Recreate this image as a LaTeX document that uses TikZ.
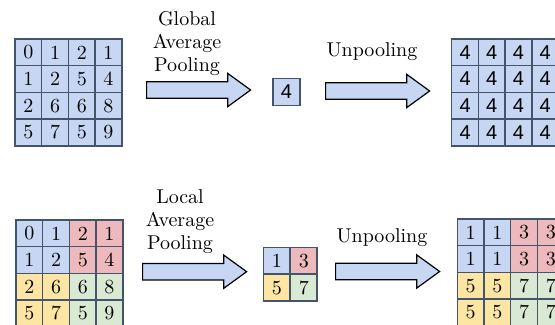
\documentclass[tikz,border=0pt]{standalone}
\usepackage{fontspec}
\newfontfamily\arialfont{Liberation Sans}
\usetikzlibrary{shapes.arrows, positioning}
\definecolor{cellblue}{HTML}{C6D6F3}
\definecolor{cellred}{HTML}{EDB9BC}
\definecolor{cellyellow}{HTML}{FDE5A3}
\definecolor{cellgreen}{HTML}{DAE9D4}
\definecolor{gridline}{HTML}{44546A}

\begin{document}
\begin{tikzpicture}[
        x=0.5pt, y=-0.5pt,
        cell/.style={rectangle, draw=gridline, line width=0.75pt, minimum size=13.35pt, inner sep=0pt, font=\fontsize{10}{12}\selectfont},
        blockarrow/.style={single arrow, draw=black, line width=0.6pt, fill=cellblue, minimum height=52pt, inner xsep=0pt, inner ysep=3.8pt, single arrow head extend=4.2pt, single arrow tip angle=72, single arrow head indent=0pt, anchor=west},
        label/.style={align=center, font=\fontsize{10}{11.5}\selectfont}
    ]
        \useasboundingbox (0,0) rectangle (555,325);

        % Global pooling (top row)
        \foreach \r/\vals in {0/{0,1,2,1}, 1/{1,2,5,4}, 2/{2,6,6,8}, 3/{5,7,5,9}}
            \foreach \v [count=\c from 0] in \vals
                \node [cell, fill=cellblue] (in-\r-\c) at ({15+26.7*(\c+0.5)}, {39+26.7*(\r+0.5)}) {\v};
        \node [blockarrow] (gap) at (146,90) {};
        \node [label] (gaptext) at (187,44) {Global\\Average\\Pooling};
        \node [cell, fill=cellblue, font=\arialfont\fontsize{10}{12}\selectfont] (avg) at (286.5,92) {4};
        \node [blockarrow] (unpool) at (325,91) {};
        \node [label] (unpooltext) at (372,52) {Unpooling};
        \foreach \r in {0,...,3}
            \foreach \c in {0,...,3}
                \node [cell, fill=cellblue, font=\arialfont\fontsize{10}{12}\selectfont] (out-\r-\c) at ({451.7+26.7*(\c+0.5)}, {39+26.7*(\r+0.5)}) {4};

        % Local pooling (bottom row)
        \foreach \r/\vals in {0/{0/cellblue,1/cellblue,2/cellred,1/cellred}, 1/{1/cellblue,2/cellblue,5/cellred,4/cellred},
                2/{2/cellyellow,6/cellyellow,6/cellgreen,8/cellgreen}, 3/{5/cellyellow,7/cellyellow,5/cellgreen,9/cellgreen}}
            \foreach \v/\f [count=\c from 0] in \vals
                \node [cell, fill=\f] (lin-\r-\c) at ({16+26.7*(\c+0.5)}, {220+26.7*(\r+0.5)}) {\v};
        \node [blockarrow] (lap) at (142,271.7) {};
        \node [label] (laptext) at (180,222) {Local\\Average\\Pooling};
        \foreach \r/\vals in {0/{1/cellblue,3/cellred}, 1/{5/cellyellow,7/cellgreen}}
            \foreach \v/\f [count=\c from 0] in \vals
                \node [cell, fill=\f] (lavg-\r-\c) at ({263.3+27*(\c+0.5)}, {247.3+27*(\r+0.5)}) {\v};
        \node [blockarrow] (lunpool) at (335,271.5) {};
        \node [label] (lunpooltext) at (382,238) {Unpooling};
        \foreach \r/\vals in {0/{1/cellblue,1/cellblue,3/cellred,3/cellred}, 1/{1/cellblue,1/cellblue,3/cellred,3/cellred},
                2/{5/cellyellow,5/cellyellow,7/cellgreen,7/cellgreen}, 3/{5/cellyellow,5/cellyellow,7/cellgreen,7/cellgreen}}
            \foreach \v/\f [count=\c from 0] in \vals
                \node [cell, fill=\f] (lout-\r-\c) at ({457.3+26.7*(\c+0.5)}, {219+26.7*(\r+0.5)}) {\v};
    \end{tikzpicture}
\end{document}
